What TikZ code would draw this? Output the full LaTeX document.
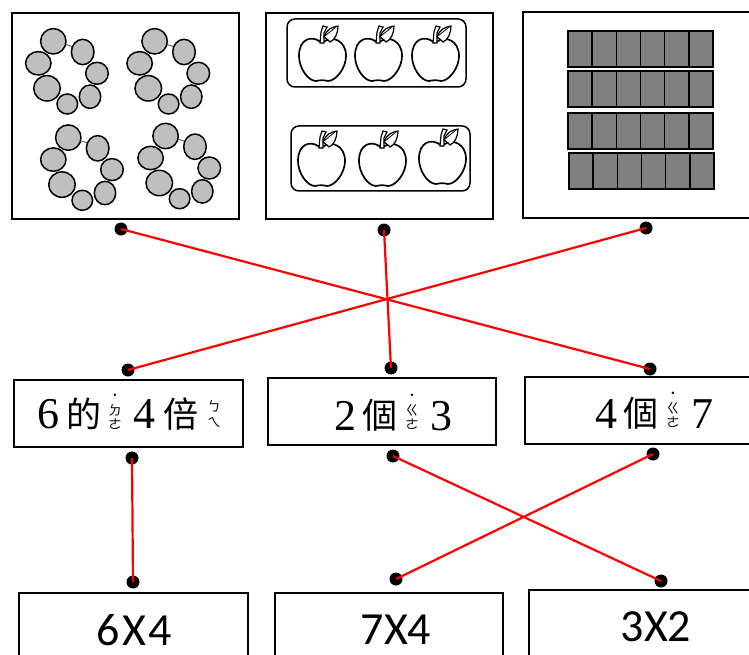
\documentclass[tikz,border=0pt]{standalone}
\usepackage{fontspec}
\setmainfont{Liberation Serif}
\newfontfamily\cjk{Noto Sans CJK TC}
\newfontfamily\lab{Carlito}
\tikzset{
 x=1pt,y=-1pt,
 panel/.style={draw=black,line width=1.9pt,fill=white},
 bead/.style={draw=black,line width=1.5pt,fill=black!25},
 pin/.style={circle,fill=black,inner sep=0pt,minimum size=13pt},
 link/.style={draw=red,line width=2.2pt},
 cellfill/.style={fill=black!50},
 cellline/.style={draw=black,line width=1.6pt},
 tray/.style={draw=black,line width=1.5pt,rounded corners=8pt},
 word/.style={inner sep=0pt,font=\fontsize{44}{46}\selectfont},
 hanzi/.style={inner sep=0pt,font=\cjk\fontsize{35}{37}\selectfont},
 ruby/.style={inner sep=0pt,align=center,font=\cjk\fontsize{13.5}{14.5}\selectfont},
 sumtext/.style={inner sep=0pt,font=\lab\fontsize{46}{47}\selectfont},
 applepic/.pic={
  \draw[line width=1.7pt,fill=white] (-3,-19) .. controls (-10,-24) and (-23,-22) .. (-23,-4)
   .. controls (-23,8) and (-14,21) .. (-6,21) .. controls (-2,20) and (2,20) .. (6,21)
   .. controls (14,21) and (24,8) .. (24,-4) .. controls (24,-20) and (10,-24) .. (3,-19)
   .. controls (1,-17) and (-1,-17) .. (-3,-19) -- cycle;
  \draw[line width=1.2pt,fill=white] (-2,-17) -- (-1,-28) -- (1,-34) -- (5,-33) -- (2,-27) -- (2,-17) -- cycle;
  \draw[line width=1.2pt,fill=white] (2,-23) .. controls (5,-31) and (10,-33) .. (16,-34)
   .. controls (16,-27) and (13,-20) .. (8,-18) .. controls (6,-20) and (4,-22) .. (2,-23) -- cycle;
  \draw[line width=0.8pt] (3,-24) -- (14,-33);
 },
 flowerpic/.pic={
  \draw[line width=1pt,black!60] (64,44) -- (74,47);
  \draw[bead] (53.3,41.3) ellipse (12.7 and 12.7);
  \draw[bead] (82.7,52) ellipse (11.3 and 12.7);
  \draw[bead] (38.3,63.3) ellipse (12.7 and 11.7);
  \draw[bead] (97,73.3) ellipse (11.3 and 11);
  \draw[bead] (47,88.3) ellipse (13.3 and 12.7);
  \draw[bead] (90,96.7) ellipse (10.7 and 11.7);
  \draw[bead] (67.3,104) ellipse (10.3 and 10);
 },
}
\begin{document}
\begin{tikzpicture}
\useasboundingbox (0,0) rectangle (749,655);
\fill[white] (0,0) rectangle (749,655);
% top panels
\draw[panel] (12,13) rectangle (239,219);
\draw[panel] (266,13) rectangle (493,219);
\draw[panel] (523,12) rectangle (755,218);
% flowers
\pic at (0,0) {flowerpic};
\pic at (101.3,0) {flowerpic};
\pic at (15,96.3) {flowerpic};
\pic at (112.3,94.7) {flowerpic};
% apples
\draw[tray] (287,19) rectangle (466,87);
\draw[tray] (291,126) rectangle (470,191);
\foreach \ax/\ay in {322/60,378/60,435/60,321/165,382/165,442/163}
  \pic at (\ax,\ay) {applepic};
% grid
\foreach \gx/\gy in {568/31,568/71,568/113,569/153}{
  \fill[cellfill] (\gx,\gy) rectangle ++(145,36);
  \draw[cellline] (\gx,\gy) rectangle ++(145,36);
  \foreach \i in {1,...,5}
    \draw[cellline] (\gx+\i*24.17,\gy) -- ++(0,36);
}
% label panels
\draw[panel] (14,380) rectangle (243,447);
\draw[panel] (268,378) rectangle (496,445);
\draw[panel] (525,377) rectangle (755,444);
\node[word] (a6) at (48,414) {6};
\node[hanzi] (ade) at (84,414) {的};
\node[ruby] (ar1) at (115,412) {˙\\ㄉ\\ㄜ};
\node[word] (a4) at (144,414) {4};
\node[hanzi] (abei) at (181,414) {倍};
\node[ruby] (ar2) at (214,414) {ㄅ\\[2pt]ㄟ};
\node[word] (b2) at (345,416) {2};
\node[hanzi] (bge) at (380,415) {個};
\node[ruby] (br) at (412,412) {˙\\ㄍ\\ㄜ};
\node[word] (b3) at (441,416) {3};
\node[word] (c4) at (606,414) {4};
\node[hanzi] (cge) at (641,413) {個};
\node[ruby] (cr) at (673,410) {˙\\ㄍ\\ㄜ};
\node[word] (c7) at (702,414) {7};
% bottom panels
\draw[panel] (19,593) rectangle (248,662);
\draw[panel] (275,593) rectangle (503,662);
\draw[panel] (529,590) rectangle (755,662);
\node[sumtext] (s1) at (134,630) {6\kern2.5pt X\kern2.5pt 4};
\node[sumtext] (s2) at (396,630) {7X4};
\node[sumtext] (s3) at (656,627) {3X2};
% pins
\node[pin] (p1) at (121,229) {};
\node[pin] (p2) at (384,230) {};
\node[pin] (p3) at (646,228) {};
\node[pin] (q1) at (128,370) {};
\node[pin] (q2) at (391,368) {};
\node[pin] (q3) at (650,369) {};
\node[pin] (r1) at (132,458) {};
\node[pin] (r2) at (393,456) {};
\node[pin] (r3) at (653,454) {};
\node[pin] (t1) at (133,582) {};
\node[pin] (t2) at (396,579) {};
\node[pin] (t3) at (661,581) {};
\draw[link] (p1.center) -- (q3.center);
\draw[link] (p2.center) -- (q2.center);
\draw[link] (p3.center) -- (q1.center);
\draw[link] (r1.center) -- (t1.center);
\draw[link] (r2.center) -- (t3.center);
\draw[link] (r3.center) -- (t2.center);
\end{tikzpicture}
\end{document}
